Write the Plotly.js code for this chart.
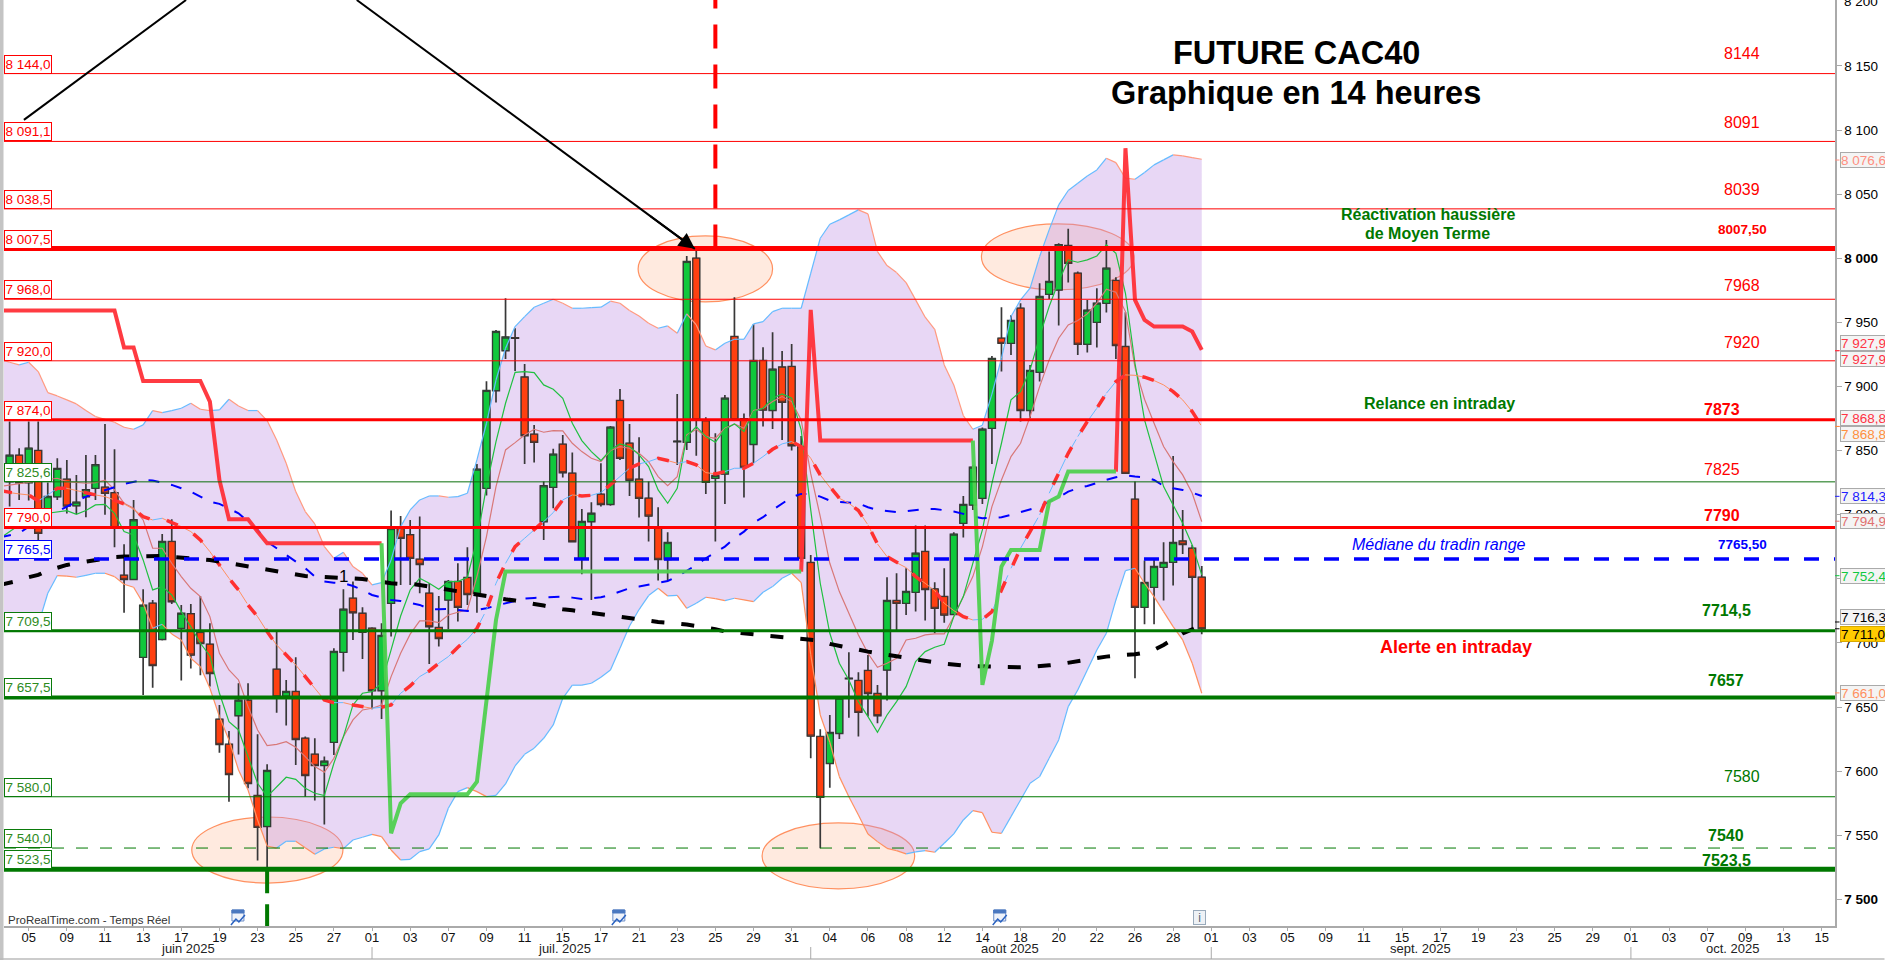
<!DOCTYPE html>
<html><head><meta charset="utf-8">
<script src="https://cdn.plot.ly/plotly-3.0.1.min.js"></script>
<style>html,body{margin:0;padding:0;background:#fff;overflow:hidden}</style></head>
<body><div id="chart" style="width:1885px;height:960px"></div>
<script>
// candles: first candle has index -2
const firstCandle = -2;
const opens = [7825.8,7846.3,7825,7850,7798.5,7814,7827.6,7807,7814,7820.6,
7821.4,7817,7752.7,7749.6,7688.8,7730.9,7702.8,7779,7711.4,7722.6,
7708,7698.9,7640.4,7620.9,7643.3,7655.2,7580.9,7556.9,7679.4,7658.6,
7662,7625.6,7613.1,7604.5,7622.5,7692.7,7734.8,7723,7711.4,7662.8,
7730.9,7789,7784.2,7765.2,7738.7,7711.9,7733.5,7747.8,7750.9,7738.7,
7820.6,7896.8,7928,7937.9,7907.2,7862.7,7794.6,7821.4,7854.9,7832.3,
7766,7794.6,7815.9,7808.1,7889,7855.7,7827.6,7812.8,7789.4,7765.2,
7857,7856.5,8000,7873.1,7828.4,7831.8,7938.9,7874.7,7854.9,7920.2,
7881.4,7915,7915.5,7853,7762.6,7626.9,7606.1,7629.5,7672.1,7670.6,
7678.4,7660.4,7678.9,7733,7730.9,7739.5,7771.2,7742,7736.1,7722.3,
7793.3,7807.6,7812.8,7867.4,7937.6,7933.7,7961,7881.4,7911.1,7971.9,
7975.3,8009.9,7988.3,7933,7950.1,7964.9,7982.6,7931,7812,7727.8,
7743.4,7759,7762.9,7779.3,7773.8,7751.2];
const highs = [7872.6,7851.8,7872.6,7872.6,7825,7844,7842.7,7831,7846.6,7846.6,
7870.8,7851,7777,7811.5,7741.8,7733.5,7785,7796.4,7729.6,7730.4,
7736.6,7715.3,7651.6,7631.3,7668.5,7668.5,7628.7,7605.3,7708.8,7671,
7688.8,7626.9,7625.6,7611.3,7695.8,7741.8,7747.8,7727.8,7712.2,7715.3,
7803.2,7799,7795.9,7798.5,7746.5,7736.6,7749,7762.1,7774.6,7839.6,
7904,7944.1,7968.8,7945.4,7917.6,7870,7825.8,7851.5,7862.2,7848.4,
7804.5,7809.7,7840.1,7869.2,7898,7870.8,7860.4,7825.8,7805.8,7786.3,
7894.2,8001.8,8006.5,7876,7863.5,7893.4,7969.6,7879,7948.5,7930.6,
7942.3,7927.7,7933.2,7861.4,7768.6,7632.6,7643.8,7658,7692.7,7677.1,
7690.6,7667.2,7751.2,7754.3,7758.2,7791.5,7791.5,7747.3,7758.2,7786.3,
7814.6,7838.8,7868,7923.8,7961.8,7955.5,7964.9,7916.8,7980.5,8005.2,
8011.7,8022.9,7989.6,7967.5,7976.6,8014.3,7985.2,7957.9,7825.8,7764.2,
7764.7,7778.5,7845.8,7803.7,7776.4,7760];
const lows = [7806.3,7811.5,7811,7780,7795,7811.5,7801,7800.6,7798,7811.5,
7800,7774.6,7723.6,7749,7659.4,7665,7701.8,7730.4,7670.6,7680,
7674.7,7665.9,7614.4,7576.2,7612.9,7586.6,7530.2,7524.2,7645.6,7635.5,
7604.8,7580.1,7577,7558.3,7612.6,7677.6,7702.3,7687.5,7648.2,7640.7,
7704.9,7745.2,7745.2,7738.7,7683.6,7697.1,7710.6,7716.6,7729.6,7723.6,
7814.9,7887.4,7921.5,7912.1,7839.6,7840.6,7780.3,7805,7829,7779,
7753.5,7733.5,7806.3,7807,7842.7,7814.6,7797.7,7779,7748.6,7748.3,
7838.8,7850.5,7846,7816.2,7779,7808.4,7874,7813.3,7840.1,7868.7,
7866.9,7858.3,7850,7763,7610,7539.8,7587.1,7625.1,7641.7,7626.9,
7642.5,7637.3,7655,7710.1,7721.8,7724.4,7717.4,7707.5,7715.8,7721.5,
7782.1,7803.7,7808.4,7839.6,7911.6,7924.6,7872.6,7875.2,7903.8,7968.3,
7947.5,7981,7924.6,7926.4,7930.3,7957.6,7921.5,7832,7672.4,7714.5,
7714.5,7733,7744.7,7769.4,7710.1,7706.7];
const closes = [7846.3,7825,7851.8,7785.5,7814,7836,7806.8,7809.7,7819.3,7838.8,
7816.7,7790,7749.6,7795.9,7729.3,7682.5,7779,7732.2,7723,7690.6,
7699.7,7676.3,7620.9,7597.5,7655.2,7590.5,7556.2,7600.4,7658,7662,
7624.8,7596.7,7604.5,7607.7,7693.2,7726.2,7723.6,7708.3,7662.8,7705.7,
7789.1,7781.6,7766,7761.3,7712.7,7703.6,7747.8,7727.8,7737.9,7835.4,
7896.8,7942.8,7938.4,7937.6,7861.7,7856.5,7822.4,7847.1,7832.8,7779,
7794.6,7801,7808.1,7868.2,7844,7827,7812.8,7799,7765.2,7778.2,
7857.2,7997.4,7874,7825.3,7830.5,7890.8,7874,7837,7920.2,7881.7,
7913.4,7887.7,7853.9,7766,7627.4,7579.6,7630,7656.8,7672.3,7645.9,
7660.7,7643.3,7733,7730.9,7740,7769.9,7741.8,7727,7721.8,7784.7,
7807.9,7837,7866.6,7921.7,7933.7,7951.4,7881.4,7912.4,7970.1,7981.8,
8010.4,7996.1,7933,7959.4,7964.9,7992.2,7932.1,7832.3,7727.8,7747,
7759.5,7762.6,7778.2,7776.9,7751.2,7711.1];

// indicator series: first value has index -3
const firstIndicator = -3;
const upperBand = [7921,7918.9,7916.8,7918.9,7911.6,7895.2,7892.6,7889.5,7886.4,7881.2,
7876.5,7874.4,7872.1,7868.2,7866.6,7870,7881.2,7879.6,7881.2,7883,
7886.9,7882.2,7881.2,7881.7,7890,7884.8,7881.2,7881.2,7873.4,7858.3,
7840.1,7818,7802.4,7792.8,7775.1,7766,7770.7,7759.5,7754.3,7745.2,
7747,7764.7,7790.7,7803.7,7811.5,7814.6,7814.6,7813.6,7814.1,7816.7,
7842.7,7871.3,7905,7929.8,7946.7,7954.5,7961.8,7964.9,7968,7964.9,
7961,7961,7961.5,7961.8,7966.5,7964.9,7959.2,7955,7949.3,7945.4,
7947.2,7941.5,7956.6,7948,7931.6,7928.5,7933.7,7936.8,7936.8,7948.8,
7950.6,7958.4,7961,7961,7961,7988.3,8015.6,8026.5,8029.9,8033.8,
8037.7,8034.6,8005.2,7994.3,7988.8,7981,7967.5,7954,7944.6,7916.8,
7901.2,7877.2,7866.6,7869.8,7894,7922,7954.5,7967.5,7976.6,8001.3,
8022.1,8041.6,8052.8,8058.5,8064.2,8068.9,8078,8074.6,8062.4,8061.6,
8066.8,8072.8,8076.7,8080.6,8079.8,8078.5,8077.2];
const lowerBand = [7714,7714,7714,7714,7714,7738.7,7752.5,7752,7751.2,7752.7,
7754.3,7754.3,7751.7,7745.7,7743.4,7730.9,7711.4,7714.5,7707,7702.3,
7688,7681.5,7664.6,7642.5,7624.3,7600.9,7585.3,7561.9,7541.6,7540,
7545.3,7545.3,7540.3,7535.1,7539.3,7540.6,7539.5,7546.3,7548.4,7550.7,
7548.9,7538.5,7530.7,7531.2,7537.2,7539.3,7550.2,7571,7584,7587.1,
7584,7580.1,7581.1,7590,7604,7613.1,7617.9,7625.6,7636,7656.8,
7667,7667,7668.5,7673.2,7678.9,7695.8,7713.2,7726,7736.9,7742.6,
7736.6,7737.1,7727,7730.9,7735.6,7734.5,7733,7734.8,7733.5,7732.2,
7739.5,7743.9,7750.4,7754.3,7747,7690.8,7643.8,7622.5,7595.7,7580,
7565.8,7551,7545,7539.8,7538,7535.4,7537,7538,7536.7,7543.7,
7551,7561.9,7569.2,7567.6,7552.3,7551.5,7564.5,7577.5,7590.5,7595.7,
7610,7624.3,7650.3,7663.3,7678.9,7694.5,7707.5,7733.5,7756.4,7758.2,
7746.5,7736.1,7724.4,7712.7,7702.3,7684.1,7660.7];
const fastGreen = [7781.6,7786.8,7792,7795.9,7799,7801.1,7802.4,7803.2,7800.3,7803.2,
7807.6,7808.1,7801.1,7786.8,7784.2,7764.7,7741.3,7743.9,7737.4,7724.4,
7712.7,7699.7,7690,7660.7,7638.6,7632.1,7611.3,7590.5,7580.1,7587.9,
7595.2,7593.6,7586.6,7582.7,7580.9,7606.1,7626.9,7651.6,7660.7,7662,
7668.5,7694.5,7721,7741.3,7750.4,7746.5,7741.8,7747.8,7747.8,7751.2,
7780.3,7821.9,7857,7886.9,7911,7911.6,7910.8,7901.2,7897.8,7890.8,
7871.3,7857.8,7849.2,7842.2,7850.5,7855.2,7853.1,7846.6,7837.5,7819.3,
7808.9,7820.6,7860.9,7868.7,7860.9,7856.5,7866.6,7870.8,7864.8,7880.4,
7883,7890.8,7894.2,7890.8,7866.1,7803.7,7746.5,7707.5,7684.1,7671.1,
7654.2,7642.5,7630.3,7643.8,7654.2,7665.9,7685.4,7693.2,7696.6,7698.9,
7720.5,7736.1,7762.1,7788.1,7824.5,7855.7,7889.5,7896,7912.9,7938.9,
7962.3,7981.8,7998.7,7996.9,7998.7,8001.8,8010.4,8003.9,7972.7,7918.1,
7873.9,7847.9,7821.9,7807.6,7793.3,7776.4,7753];
const midRed = [7822,7823,7824,7825,7826,7827,7828.4,7825.8,7825,7824.5,
7825,7827,7819.3,7808.9,7805,7795.9,7773.8,7773.8,7762.1,7751.7,
7742.6,7736.1,7720.5,7691.9,7678.9,7671.1,7650.3,7632.1,7619.9,7620.9,
7623,7618.6,7611.3,7603.5,7599.1,7610,7626.9,7639.9,7647.7,7649,
7651.6,7673.7,7691.9,7706.8,7717.1,7717.1,7715.8,7721.8,7723.9,7725.7,
7751.7,7782.9,7821.9,7850.5,7856.2,7862.2,7866.6,7864.3,7865.6,7865.3,
7855.7,7849.2,7844,7841.4,7850,7853.1,7851.8,7847.9,7841.4,7829.7,
7822.7,7829.7,7862.2,7866.6,7860.9,7859.6,7867.4,7870.8,7867.4,7881.2,
7883,7888.2,7892.1,7888.2,7873.9,7832,7798.5,7762.1,7740,7723.1,
7706.2,7691.9,7681,7684.1,7688,7702.3,7703.6,7706.2,7707,7707,
7720.5,7736.1,7751.7,7775.1,7806.3,7827.1,7845.3,7855.7,7876.5,7899.9,
7920.7,7937.6,7948,7951.4,7956.6,7964.9,7975.8,7973.5,7958.4,7915,
7890,7871.3,7853.1,7841.4,7831,7816.7,7794.6];
const dashedBlue = [7782.4,7784.2,7785.5,7790.7,7793.3,7798.5,7802.4,7806.3,7810.2,7814.1,
7816.7,7818.8,7821.4,7824,7825.8,7827.1,7826.6,7825,7823.2,7820.6,
7818,7814.1,7810.2,7808.4,7804.5,7801.1,7794.6,7788.1,7779,7773.8,
7768.6,7763.4,7758.2,7751.7,7747.8,7747,7746.5,7744.4,7741.3,7737.4,
7735.6,7733.5,7732.7,7731.4,7729.6,7726.5,7726.2,7726.5,7725.7,7724.9,
7725.7,7727,7729.1,7730.9,7733,7734.5,7735.1,7735.3,7735.6,7736.1,
7735.3,7734.3,7734.8,7735.6,7737.4,7740,7742.6,7743.9,7745.2,7746.5,
7748.3,7751.7,7756.1,7760.8,7766,7770.4,7775.1,7781.6,7786.8,7793.8,
7798,7803.7,7808.4,7813.6,7816.2,7816.2,7814.1,7811,7809.9,7809.4,
7808.9,7805.8,7803.7,7802.9,7802.1,7802.7,7803.7,7804.5,7804.5,7803.7,
7802.4,7800.6,7798.5,7797.2,7797.5,7798,7799.8,7801.9,7803.7,7806.3,
7810.2,7813.6,7818,7820.6,7822.4,7825,7827.1,7829.2,7830.7,7829.7,
7829.2,7827.1,7822.4,7820.6,7819.3,7817.2,7814.6];
const dashedRed = [7818.8,7817.2,7816.2,7815.4,7810.7,7815.4,7820.6,7820.6,7818.8,7817.2,
7815.4,7814.1,7811.5,7808.4,7804.2,7798.5,7795.9,7797.2,7793.8,7790.7,
7786.8,7780.3,7771.2,7760.8,7750.4,7741.3,7729.6,7720.5,7708.8,7698.4,
7690.6,7682.8,7673.7,7664.6,7655.5,7653.4,7653.4,7651.6,7650.3,7649,
7649.8,7651.6,7660.7,7666.4,7673.7,7678.1,7684.1,7689.3,7696.6,7702.8,
7711.4,7725.7,7746.5,7762,7775.1,7781.6,7788.1,7794.6,7801.6,7811.5,
7815.4,7814.6,7815.1,7817.2,7823.2,7829.7,7836.2,7839.6,7841.4,7844,
7842.2,7840.1,7841.4,7838.8,7832.8,7831.8,7833.6,7836.2,7836.2,7840.1,
7845.3,7851,7855.2,7857,7853.1,7844,7831,7821.4,7812.8,7808.9,
7803.2,7792,7777.2,7767.3,7762.6,7758.7,7751.7,7746.5,7740.8,7730.9,
7725.2,7720.5,7717.9,7718.4,7724.4,7741.3,7758.2,7773.8,7786.8,7799.8,
7816.7,7832.3,7847.9,7860.9,7872.6,7883,7894.7,7903.8,7909,7908.7,
7907.2,7904.6,7901.2,7896,7889.5,7880.4,7868.8];
const blackMA = [7745.2,7747,7748.6,7751.2,7753,7756.4,7758.7,7760.8,7762.1,7763.4,
7764.7,7766,7767,7767.3,7767.6,7767.8,7767.8,7767.8,7767,7766.5,
7765.7,7765.2,7764.7,7763.4,7762.1,7760.8,7759.5,7758.2,7756.9,7755.6,
7754.3,7753,7752.2,7751.7,7751.2,7750.9,7750.4,7750.2,7749.9,7748.6,
7747.3,7746.5,7746,7746,7745.2,7743.9,7742.3,7741.3,7740.3,7738.7,
7737.1,7736.1,7734.8,7734,7733,7731.4,7730.4,7729.1,7727.5,7726.2,
7725.4,7724.4,7723.6,7722.6,7721.5,7720.5,7719.2,7717.9,7717.1,7716.3,
7715.8,7715.3,7714.3,7713.2,7712.2,7710.6,7709,7708,7707.5,7706.7,
7705.9,7705.2,7704.4,7703.6,7702.8,7702.8,7701.8,7699.2,7697.6,7695.8,
7694.5,7693.2,7691.9,7690.6,7689.3,7688,7687.2,7685.9,7684.9,7683.8,
7682.8,7682.3,7681.8,7681.5,7681.2,7681,7681,7681,7681.2,7681.5,
7682.5,7683.3,7684.6,7685.7,7687.2,7688.5,7689.3,7690.1,7690.6,7691.1,
7692.4,7694.5,7698.4,7702.8,7707.5,7710.6,7714];
const _ = null;
const stopRed = [7959.2,7959.2,7959.2,7959.2,7959.2,7959.2,7959.2,7959.2,7959.2,7959.2,
7959.2,7959.2,7959.2,7930.3,7930.3,7904.3,7904.3,7904.3,7904.3,7904.3,
7904.3,7904.3,7888.2,7827.1,7796.4,7796.4,7796.4,7786.8,7777.7,7777.7,
7777.7,7777.7,7777.7,7777.7,7777.7,7777.7,7777.7,7777.7,7777.7,7777.7,
7777.7,_,_,_,_,_,_,_,_,_,
_,_,_,_,_,_,_,_,_,_,
_,_,_,_,_,_,_,_,_,_,
_,_,_,_,_,_,_,_,_,_,
_,_,_,_,7755.6,7959.7,7857.8,7857.8,7857.8,7857.8,
7857.8,7857.8,7857.8,7857.8,7857.8,7857.8,7857.8,7857.8,7857.8,7857.8,
7857.8,7857.8,7857.8,_,_,_,_,_,_,_,
_,_,_,_,_,_,_,7833.6,8085.8,7967.5,
7951.9,7946.7,7946.7,7946.7,7946.7,7942.8,7928.5];
const stopGreen = [_,_,_,_,_,_,_,_,_,_,
_,_,_,_,_,_,_,_,_,_,
_,_,_,_,_,_,_,_,_,_,
_,_,_,_,_,_,_,_,_,_,
7777.7,7551.5,7574.9,7582,7582,7582,7582,7582,7582,7582,
7591.8,7658,7717.9,7755.6,7755.6,7755.6,7755.6,7755.6,7755.6,7755.6,
7755.6,7755.6,7755.6,7755.6,7755.6,7755.6,7755.6,7755.6,7755.6,7755.6,
7755.6,7755.6,7755.6,7755.6,7755.6,7755.6,7755.6,7755.6,7755.6,7755.6,
7755.6,7755.6,7755.6,7755.6,7755.6,_,_,_,_,_,
_,_,_,_,_,_,_,_,_,_,
_,_,7857.8,7667.2,7701.8,7759.5,7772.5,7772.5,7772.5,7772.5,
7810.2,7814.1,7833.6,7833.6,7833.6,7833.6,7833.6,7833.6,_,_,
_,_,_,_,_,_,_];

// horizontal levels
const levelValues = [8144,8091.1,8038.5,8007.5,7968,7920,7874,7825.6,7790,7765.5,7709.5,7657.5,7580,7540,7523.5];
const levelBoxes = ["8 144,0","8 091,1","8 038,5","8 007,5","7 968,0","7 920,0","7 874,0","7 825,6","7 790,0","7 765,5","7 709,5","7 657,5","7 580,0","7 540,0","7 523,5"];
const levelColors = ["#f00","#f00","#f00","#f00","#f00","#f00","#f00","#0a6e0a","#f00","#00f","#007800","#007800","#007800","#007800","#007800"];
const levelWidths = [1,1,1,5,1,1,3,1,3,3.5,3,4,1,1,5];
const levelDashes = ["solid","solid","solid","solid","solid","solid","solid","solid","solid","15px,15px","solid","solid","solid","12px,12px","solid"];

// text notes beside levels
const noteTexts = ["8144","8091","8039","<b>8007,50</b>","7968","7920","<b>7873</b>","7825","<b>7790</b>","<b>7765,50</b>","<b>7714,5</b>","<b>7657</b>","7580","<b>7540</b>","<b>7523,5</b>"];
const notePrices = [8160,8105.5,8054,8022.4,7979,7934,7882,7835.6,7799,7777,7725,7671,7596,7550,7530];
const noteColors = ["#f00","#f00","#f00","#f00","#f00","#f00","#f00","#f00","#f00","#00f","#007800","#007800","#007800","#007800","#007800"];
const noteSizes = [16,16,16,13.5,16,16,16,16,16,13.5,16,16,16,16,16];
const noteIndex = [179.7,179.7,179.7,179.7,179.7,179.7,177.5,177.5,177.5,179.7,178,178,179.7,178,178];

// price tags on the right
const tagTexts = ["8 076,6","7 927,9","7 927,9","7 868,8","7 868,8","7 814,3","7 794,9","7 752,4","7 716,3","7 711,0","7 661,0"];
const tagPrices = [8076.6,7927.9,7927.9,7868.8,7868.8,7814.3,7794.9,7752.4,7716.3,7711,7661];
const tagColors = ["#ff8f80","#ff3344","#ff3344","#ff3344","#ff9040","#2020ff","#e07070","#10c840","#000","#000","#ff9060"];
const tagShifts = [0,-8,8,-8,8,0,0,0,-5,5,0];

// axis
const dayTicks = ["05","09","11","13","17","19","23","25","27","01","03","07","09","11","15","17","21","23","25","29","31","04","06","08","12","14","18","20","22","26","28","01","03","05","09","11","15","17","19","23","25","29","01","03","07","09","13","15"];
const monthLabels = ["juin 2025","juil. 2025","août 2025","sept. 2025","oct. 2025"];
const monthCenters = [16.7,56.2,102.9,145.9,178.7];
const monthStarts = [36,82,124,168];
const priceTicks = [7500,7550,7600,7650,7700,7750,7800,7850,7900,7950,8000,8050,8100,8150];

const FONT = "Liberation Sans";
const xr = [-2.589,189.4], yr = [7479.2,8201.4];
const W0 = 4, W = 1831.5, H = 926;
const px = v => (v-W0)/W, py = v => 1-v/H;
const iX = a => a.map((_v,k)=>k+firstIndicator);

function segTraces(vals,up,down,width,dash,opacity){
  const xu=[],yu=[],xd=[],yd=[];
  for(let k=1;k<vals.length;k++){
    const a=vals[k-1],b=vals[k],i=k+firstIndicator;
    const X=b>=a?xu:xd,Y=b>=a?yu:yd;
    X.push(i-1,i,null);Y.push(a,b,null);
  }
  const base={type:'scatter',mode:'lines',hoverinfo:'skip',opacity:opacity||1};
  const l=c=>({color:c,width:width,dash:dash||'solid'});
  return [Object.assign({x:xu,y:yu,line:l(up)},base),Object.assign({x:xd,y:yd,line:l(down)},base)];
}
const line=(y,color,width,dash,op)=>({type:'scatter',mode:'lines',x:iX(y),y:y,connectgaps:false,hoverinfo:'skip',opacity:op||1,line:{color:color,width:width,dash:dash||'solid'}});

const data=[];
data.push(...segTraces(upperBand,'#66bbff','#ff9a80',1.2));
data.push(...segTraces(lowerBand,'#66bbff','#ff9060',1.2));
data.push(line(midRed,'#d87878',1.2));
data.push(line(fastGreen,'#20c040',1.2));
// two candlestick passes: heavier wicks first, thin-outlined bodies on top
const candleX=opens.map((_v,k)=>k+firstCandle);
data.push({type:'candlestick',x:candleX,open:opens,high:highs,low:lows,close:closes,
  whiskerwidth:0,hoverinfo:'skip',
  increasing:{fillcolor:'#10c83c',line:{color:'#383838',width:1.7}},
  decreasing:{fillcolor:'#ff4010',line:{color:'#383838',width:1.7}}});
data.push({type:'candlestick',x:candleX,open:opens,close:closes,
  high:opens.map((o,k)=>Math.max(o,closes[k])),low:opens.map((o,k)=>Math.min(o,closes[k])),
  whiskerwidth:0,hoverinfo:'skip',
  increasing:{fillcolor:'#10c83c',line:{color:'#333',width:0.9}},
  decreasing:{fillcolor:'#ff4010',line:{color:'#333',width:0.9}}});
data.push(line(dashedBlue,'#0000ff',2,'11px,12px'));
data.push(...segTraces(dashedRed,'#66bbff','#ff9060',1,'16px,10px'));
data.push(line(dashedRed,'#ff3030',3.5,'12px,18px'));
data.push(line(blackMA,'#000',4,'13px,17px'));
data.push(line(stopRed,'#ff3038',4,'solid',0.95));
data.push(line(stopGreen,'#50d050',4,'solid',0.95));
levelValues.forEach((v,k)=>data.push({type:'scatter',mode:'lines',x:xr,y:[v,v],hoverinfo:'skip',line:{color:levelColors[k],width:levelWidths[k],dash:levelDashes[k]}}));
// vertical dashed markers
data.push({type:'scatter',mode:'lines',x:[72,72],y:[8007.5,8205],hoverinfo:'skip',line:{color:'#f00',width:4,dash:'24px,16px'}});
data.push({type:'scatter',mode:'lines',x:[25,25],y:[7523.5,7479],hoverinfo:'skip',line:{color:'#007800',width:4,dash:'24px,11px'}});
// sloped black lines
data.push({type:'scatter',mode:'lines',x:[-0.5,16.5],y:[8107.9,8201.4],hoverinfo:'skip',line:{color:'#000',width:2}});
data.push({type:'scatter',mode:'lines',x:[34.4,69.85],y:[8201.4,8007.3],hoverinfo:'skip',line:{color:'#000',width:2}});

const ann=[];
const T=(x,y,text,size,color,extra)=>ann.push(Object.assign({xref:'x',yref:'y',x:x,y:y,text:text,showarrow:false,xanchor:'center',yanchor:'middle',font:{family:FONT,size:size,color:color}},extra||{}));
T(132.9,8160,'<b>FUTURE CAC40</b>',32.5,'#000');
T(132.9,8128.9,'<b>Graphique en 14 heures</b>',32.5,'#000');
T(146.7,8033.8,'<b>Réactivation haussière</b>',16,'#007800');
T(146.7,8019,'<b>de Moyen Terme</b>',16,'#007800');
T(147.9,7887,'<b>Relance en intraday</b>',16,'#007800');
T(147.9,7776.5,'<i>Médiane du tradin range</i>',16,'#0000ff');
T(149.7,7697,'<b>Alerte en intraday</b>',18,'#f00');
T(33,7752,'1',17,'#000');
noteTexts.forEach((t,k)=>T(noteIndex[k],notePrices[k],t,noteSizes[k],noteColors[k]));
// arrow head
ann.push({xref:'x',yref:'y',axref:'x',ayref:'y',x:69.85,y:8007.3,ax:65,ay:8033.8,text:'',showarrow:true,arrowhead:2,arrowsize:1.6,arrowwidth:2,arrowcolor:'#000',standoff:0});
// boxed level labels
levelBoxes.forEach((t,k)=>ann.push({xref:'paper',yref:'y',x:0,y:levelValues[k],xanchor:'left',yanchor:'bottom',text:t,showarrow:false,align:'center',width:46,height:17,borderpad:0,borderwidth:1,bordercolor:levelColors[k]==='#f00'?'#f00':(levelColors[k]==='#00f'?'#00f':'#0a7a0a'),bgcolor:'#fff',font:{family:FONT,size:13.5,color:levelColors[k]==='#0a6e0a'||levelColors[k]==='#007800'?'#2e8b1e':levelColors[k]}}));
// top price label cut by the page edge
ann.push({xref:'paper',yref:'y',x:px(1842.5),y:8200,xanchor:'left',yanchor:'middle',text:'8 200',showarrow:false,font:{family:FONT,size:13.5,color:'#000'}});
// right price tags
tagTexts.forEach((t,k)=>ann.push({xref:'paper',yref:'y',x:px(1840.5),y:tagPrices[k],yshift:-tagShifts[k],xanchor:'left',yanchor:'middle',text:t,showarrow:false,align:'left',width:47,height:14,borderpad:0,borderwidth:1,bordercolor:k===9?'#d8a800':'#aaa',bgcolor:k===9?'#ffcc00':'#f4f4f4',font:{family:FONT,size:13.5,color:tagColors[k]}}));
// month labels
monthLabels.forEach((t,k)=>ann.push({xref:'x',yref:'paper',x:monthCenters[k],y:py(948.5),text:t,showarrow:false,xanchor:'center',yanchor:'middle',font:{family:FONT,size:13,color:'#222'}}));
ann.push({xref:'paper',yref:'paper',x:px(6),y:py(920),xanchor:'left',yanchor:'middle',text:'ProRealTime.com - Temps Réel',showarrow:false,font:{family:FONT,size:11.5,color:'#333'}});
ann.push({xref:'paper',yref:'paper',x:px(1200),y:py(917),xanchor:'center',yanchor:'middle',text:'i',showarrow:false,width:11,height:13,borderpad:0,borderwidth:1,bordercolor:'#9ab',bgcolor:'#eef2f6',font:{family:FONT,size:12,color:'#567'}});

const shapes=[];
const ell=(x0,x1,y0,y1)=>shapes.push({type:'circle',xref:'x',yref:'y',x0,x1,y0,y1,layer:'below',fillcolor:'rgba(255,160,110,0.22)',line:{color:'#ff9060',width:1.2}});
ell(17.1,32.95,7512.7,7564.2);
ell(63.9,78,7965.9,8017.4);
ell(99.9,115.9,7975.3,8026.8);
ell(76.9,92.9,7508.1,7559.6);
// band fill sits under the candles (a scatter fill would tint them)
const bandPts=upperBand.map((v,k)=>`${k+firstIndicator} ${v}`).concat(lowerBand.map((v,k)=>`${k+firstIndicator} ${v}`).reverse());
shapes.push({type:'path',xref:'x',yref:'y',path:'M '+bandPts.join(' L ')+' Z',layer:'below',fillcolor:'rgba(190,140,225,0.35)',line:{width:0}});
const R=(x0,x1,y0,y1,color,fill)=>shapes.push({type:'rect',xref:'paper',yref:'paper',x0:px(x0),x1:px(x1),y0:py(y0),y1:py(y1),line:{color:color,width:1},fillcolor:fill||color,layer:'above'});
R(0,3,0,960,'#c4c4c4');
shapes.push({type:'line',xref:'paper',yref:'paper',x0:px(0),x1:px(1885),y0:py(959),y1:py(959),line:{color:'#bbb',width:1.5}});
monthStarts.forEach(i=>shapes.push({type:'line',xref:'x',yref:'paper',x0:i,x1:i,y0:py(947),y1:py(959),line:{color:'#aaa',width:1}}));
tagPrices.forEach((p,k)=>shapes.push({type:'line',xref:'paper',yref:'y',x0:1,x1:px(1840),y0:p,y1:p,line:{color:tagColors[k],width:1}}));
// small calendar icons
[238,619,1000].forEach(cx=>{
  R(cx-6,cx+6,910,921,'#6f8fc8','#eef2fa');
  R(cx-6,cx+6,910,913,'#4a78c0');
  shapes.push({type:'path',xref:'paper',yref:'paper',path:`M ${px(cx-7)} ${py(925)} L ${px(cx-2)} ${py(919)} L ${px(cx+1)} ${py(922)} L ${px(cx+7)} ${py(915)}`,line:{color:'#2a62c0',width:1.5}});
});

const layout={width:1885,height:960,margin:{l:4,r:49.5,t:0,b:34,pad:0},paper_bgcolor:'#fff',plot_bgcolor:'#fff',showlegend:false,
  font:{family:FONT,size:13,color:'#000'},dragmode:false,boxmode:'overlay',boxgap:0.3,boxgroupgap:0,
  xaxis:{range:xr,type:'linear',rangeslider:{visible:false},showgrid:false,zeroline:false,showline:true,linecolor:'#aaa',linewidth:1.5,
    tickmode:'array',tickvals:dayTicks.map((_v,k)=>k*4),ticktext:dayTicks,ticks:'outside',ticklen:3,tickcolor:'#aaa',ticklabelstandoff:-4,tickfont:{family:FONT,size:13,color:'#111'}},
  yaxis:{range:yr,side:'right',showgrid:false,zeroline:false,showline:true,linecolor:'#aaa',linewidth:1.5,
    tickmode:'array',tickvals:priceTicks,ticktext:priceTicks.map(v=>{const s=String(v).replace(/^(\d)(\d{3})$/,'$1 $2');return v%500===0?'<b>'+s+'</b>':s;}),
    ticks:'outside',ticklen:5,tickcolor:'#aaa',tickfont:{family:FONT,size:13.5,color:'#000'}},
  shapes:shapes,annotations:ann};
Plotly.newPlot('chart',data,layout,{displayModeBar:false,staticPlot:true});
</script></body></html>
